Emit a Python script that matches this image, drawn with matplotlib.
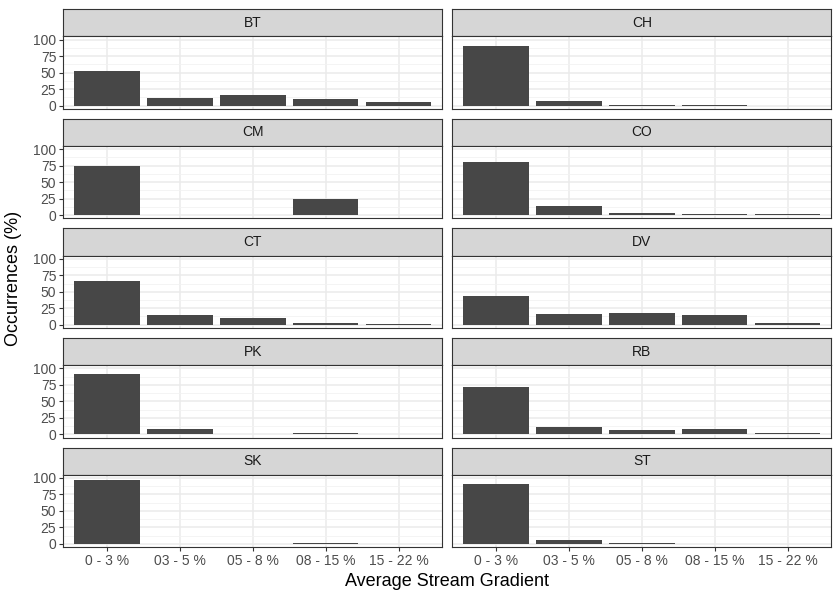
import matplotlib.pyplot as plt
from matplotlib.ticker import FixedLocator

plt.rcParams['font.family'] = ['Liberation Sans', 'DejaVu Sans']

gradients = ['0 - 3 %', '03 - 5 %', '05 - 8 %', '08 - 15 %', '15 - 22 %']
species = ['BT', 'CH', 'CM', 'CO', 'CT', 'DV', 'PK', 'RB', 'SK', 'ST']

bt = [52, 12, 16, 10.5, 6]
ch = [90, 7.5, 1.5, 1.5, 0]
cm = [74, 0, 0, 25, 0]
co = [80, 14.5, 3, 1.5, 1.5]
ct = [67, 14.5, 10, 3, 1.5]
dv = [43, 16, 17.5, 14.5, 3]
pk = [91, 8.5, 0, 1.5, 0]
rb = [72, 11.5, 7, 8.5, 1.5]
sk = [97, 0, 0, 1.5, 0]
st = [91, 6, 1.5, 0, 0]
values = [bt, ch, cm, co, ct, dv, pk, rb, sk, st]

W, H = 840, 600
fig = plt.figure(figsize=(W / 100, H / 100), dpi=100)

col_x = [63.3, 452.3]
panel_w = 379.0
row_top0 = 9.3
row_step = 109.6
strip_h = 27.0
panel_h = 72.5

border = '#333333'
for i, (name, vals) in enumerate(zip(species, values)):
    r, c = divmod(i, 2)
    top = row_top0 + r * row_step
    x0 = col_x[c]
    # strip
    sax = fig.add_axes([x0 / W, 1 - (top + strip_h) / H, panel_w / W, strip_h / H])
    sax.set_facecolor('#D6D6D6')
    sax.set_xticks([])
    sax.set_yticks([])
    for sp in sax.spines.values():
        sp.set_color(border)
        sp.set_linewidth(0.8)
    sax.text(0.5, 0.5, name, ha='center', va='center', fontsize=10,
             color='#1A1A1A', transform=sax.transAxes)
    # panel
    ax = fig.add_axes([x0 / W, 1 - (top + strip_h + panel_h) / H, panel_w / W, panel_h / H])
    xs = range(len(gradients))
    ax.bar(xs, vals, width=0.9, color='#474747', zorder=3)
    ax.set_xlim(-0.6, len(gradients) - 0.4)
    ax.set_ylim(-5, 105)
    ax.set_yticks([0, 25, 50, 75, 100])
    ax.yaxis.set_minor_locator(FixedLocator([12.5, 37.5, 62.5, 87.5]))
    ax.set_xticks(list(xs))
    ax.grid(True, which='major', color='#EBEBEB', linewidth=1.1, zorder=0)
    ax.grid(True, which='minor', axis='y', color='#F2F2F2', linewidth=0.6, zorder=0)
    ax.tick_params(which='minor', length=0)
    ax.tick_params(which='major', length=3, width=0.8, color=border,
                   labelsize=10, labelcolor='#4D4D4D', pad=2)
    for sp in ax.spines.values():
        sp.set_color(border)
        sp.set_linewidth(0.8)
    if c == 1:
        ax.tick_params(axis='y', left=False, labelleft=False)
    if r < 4:
        ax.tick_params(axis='x', bottom=False, labelbottom=False)
    else:
        ax.set_xticklabels(gradients)

fig.text(((col_x[0] + col_x[1] + panel_w) / 2) / W, 1 - 582 / H, 'Average Stream Gradient',
         ha='center', va='center', fontsize=13)
fig.text(14 / W, 1 - ((row_top0 + 4 * row_step + strip_h + panel_h + row_top0) / 2) / H,
         'Occurrences (%)', ha='center', va='center', rotation=90, fontsize=13)

fig.savefig('out.png', dpi=100, facecolor='white')
